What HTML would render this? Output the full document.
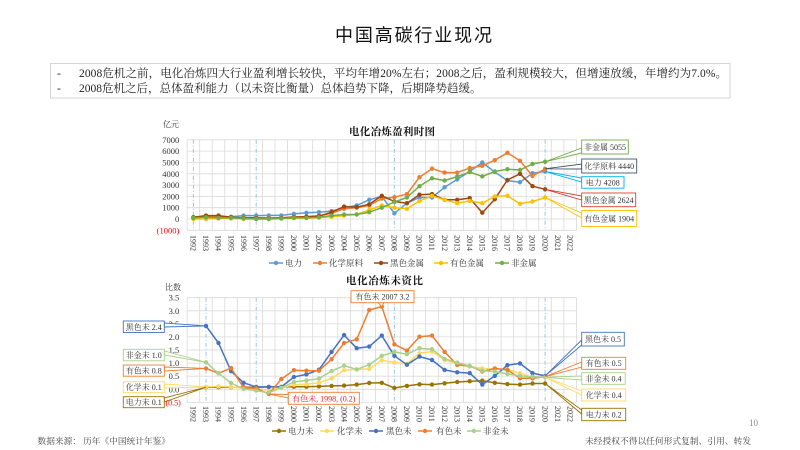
<!DOCTYPE html>
<html><head><meta charset="utf-8">
<style>
html,body{margin:0;padding:0;background:#fff;}
svg{display:block;}
.s{font-family:"Liberation Serif","Noto Serif CJK SC",serif;}
</style></head>
<body>
<svg width="800" height="450" viewBox="0 0 800 450" xmlns="http://www.w3.org/2000/svg" class="s">
<defs>
<marker id="mA" markerUnits="userSpaceOnUse" markerWidth="6" markerHeight="6" refX="3" refY="3"><circle cx="3" cy="3" r="2.2" fill="#5B9BD5"/></marker>
<marker id="mB" markerUnits="userSpaceOnUse" markerWidth="6" markerHeight="6" refX="3" refY="3"><circle cx="3" cy="3" r="2.2" fill="#ED7D31"/></marker>
<marker id="mC" markerUnits="userSpaceOnUse" markerWidth="6" markerHeight="6" refX="3" refY="3"><circle cx="3" cy="3" r="2.2" fill="#9E480E"/></marker>
<marker id="mD" markerUnits="userSpaceOnUse" markerWidth="6" markerHeight="6" refX="3" refY="3"><circle cx="3" cy="3" r="2.2" fill="#FFC000"/></marker>
<marker id="mE" markerUnits="userSpaceOnUse" markerWidth="6" markerHeight="6" refX="3" refY="3"><circle cx="3" cy="3" r="2.2" fill="#70AD47"/></marker>
<marker id="nA" markerUnits="userSpaceOnUse" markerWidth="6" markerHeight="6" refX="3" refY="3"><circle cx="3" cy="3" r="2.2" fill="#4472C4"/></marker>
<marker id="nB" markerUnits="userSpaceOnUse" markerWidth="6" markerHeight="6" refX="3" refY="3"><circle cx="3" cy="3" r="2.2" fill="#ED7D31"/></marker>
<marker id="nC" markerUnits="userSpaceOnUse" markerWidth="6" markerHeight="6" refX="3" refY="3"><circle cx="3" cy="3" r="2.2" fill="#A9D18E"/></marker>
<marker id="nD" markerUnits="userSpaceOnUse" markerWidth="6" markerHeight="6" refX="3" refY="3"><circle cx="3" cy="3" r="2.2" fill="#FFD966"/></marker>
<marker id="nE" markerUnits="userSpaceOnUse" markerWidth="6" markerHeight="6" refX="3" refY="3"><circle cx="3" cy="3" r="2.2" fill="#997300"/></marker>
</defs>
<rect width="800" height="450" fill="#fff"/>

<!-- Title -->
<text x="335" y="41.5" font-family="'Liberation Sans','Noto Sans CJK SC',sans-serif" font-size="18" fill="#111" textLength="157" lengthAdjust="spacing">中国高碳行业现况</text>

<!-- Bullet box -->
<rect x="50.5" y="63.5" width="679.5" height="34.5" fill="#fff" stroke="#D4D4D4" stroke-width="1"/>
<text x="57" y="77" font-size="11.5" fill="#222">-</text>
<text x="57" y="92" font-size="11.5" fill="#222">-</text>
<text x="79" y="77" font-size="11.5" fill="#222" textLength="648" lengthAdjust="spacing">2008危机之前，电化冶炼四大行业盈利增长较快，平均年增20%左右；2008之后，盈利规模较大，但增速放缓，年增约为7.0%。</text>
<text x="79" y="92" font-size="11.5" fill="#222">2008危机之后，总体盈利能力（以未资比衡量）总体趋势下降，后期降势趋缓。</text>

<!-- ===== TOP CHART ===== -->
<text x="349" y="135" font-size="10.5" font-weight="bold" fill="#111" textLength="86" lengthAdjust="spacing">电化冶炼盈利时图</text>
<text x="163" y="127" font-size="8" fill="#333">亿元</text>

<g stroke="#D9D9D9" stroke-width="0.8" fill="none">
<path d="M187.1 139.8H576.5M187.1 151.1H576.5M187.1 162.5H576.5M187.1 173.8H576.5M187.1 185.1H576.5M187.1 196.4H576.5M187.1 207.7H576.5M187.1 219H576.5M187.1 230.3H576.5"/>
<path d="M187.1 139.8V230.3M199.7 139.8V230.3M212.2 139.8V230.3M224.8 139.8V230.3M237.3 139.8V230.3M249.9 139.8V230.3M262.5 139.8V230.3M275.0 139.8V230.3M287.6 139.8V230.3M300.1 139.8V230.3M312.7 139.8V230.3M325.3 139.8V230.3M337.8 139.8V230.3M350.4 139.8V230.3M362.9 139.8V230.3M375.5 139.8V230.3M388.1 139.8V230.3M400.6 139.8V230.3M413.2 139.8V230.3M425.7 139.8V230.3M438.3 139.8V230.3M450.9 139.8V230.3M463.4 139.8V230.3M476.0 139.8V230.3M488.5 139.8V230.3M501.1 139.8V230.3M513.7 139.8V230.3M526.2 139.8V230.3M538.8 139.8V230.3M551.3 139.8V230.3M563.9 139.8V230.3M576.5 139.8V230.3"/>
</g>
<g stroke="#9DC3E6" stroke-width="1" stroke-dasharray="4 2 1 2" fill="none">
<path d="M193.4 139.8V230.3M256.2 139.8V230.3M394.4 139.8V230.3M545.1 139.8V230.3"/>
</g>

<g font-size="8.5" fill="#333" text-anchor="end">
<text x="179.3" y="142.8">7000</text>
<text x="179.3" y="154.1">6000</text>
<text x="179.3" y="165.5">5000</text>
<text x="179.3" y="176.8">4000</text>
<text x="179.3" y="188.1">3000</text>
<text x="179.3" y="199.4">2000</text>
<text x="179.3" y="210.7">1000</text>
<text x="179.3" y="222">0</text>
<text x="179.3" y="233.3" fill="#FF0000">(1000)</text>
</g>

<g font-size="8" fill="#333">
<text transform="translate(190.6,235) rotate(90)">1992</text>
<text transform="translate(203.2,235) rotate(90)">1993</text>
<text transform="translate(215.7,235) rotate(90)">1994</text>
<text transform="translate(228.3,235) rotate(90)">1995</text>
<text transform="translate(240.8,235) rotate(90)">1996</text>
<text transform="translate(253.4,235) rotate(90)">1997</text>
<text transform="translate(266.0,235) rotate(90)">1998</text>
<text transform="translate(278.5,235) rotate(90)">1999</text>
<text transform="translate(291.1,235) rotate(90)">2000</text>
<text transform="translate(303.6,235) rotate(90)">2001</text>
<text transform="translate(316.2,235) rotate(90)">2002</text>
<text transform="translate(328.8,235) rotate(90)">2003</text>
<text transform="translate(341.3,235) rotate(90)">2004</text>
<text transform="translate(353.9,235) rotate(90)">2005</text>
<text transform="translate(366.4,235) rotate(90)">2006</text>
<text transform="translate(379.0,235) rotate(90)">2007</text>
<text transform="translate(391.6,235) rotate(90)">2008</text>
<text transform="translate(404.1,235) rotate(90)">2009</text>
<text transform="translate(416.7,235) rotate(90)">2010</text>
<text transform="translate(429.2,235) rotate(90)">2011</text>
<text transform="translate(441.8,235) rotate(90)">2012</text>
<text transform="translate(454.4,235) rotate(90)">2013</text>
<text transform="translate(466.9,235) rotate(90)">2014</text>
<text transform="translate(479.5,235) rotate(90)">2015</text>
<text transform="translate(492.0,235) rotate(90)">2016</text>
<text transform="translate(504.6,235) rotate(90)">2017</text>
<text transform="translate(517.2,235) rotate(90)">2018</text>
<text transform="translate(529.7,235) rotate(90)">2019</text>
<text transform="translate(542.3,235) rotate(90)">2020</text>
<text transform="translate(554.8,235) rotate(90)">2021</text>
<text transform="translate(567.4,235) rotate(90)">2022</text>
</g>

<g fill="none" stroke-width="1.5" stroke-linejoin="round">
<polyline stroke="#5B9BD5" marker-start="url(#mA)" marker-mid="url(#mA)" marker-end="url(#mA)" points="193.4,217.3 206.0,217.3 218.5,217.3 231.1,216.7 243.6,215.6 256.2,215.6 268.8,215.4 281.3,215.4 293.9,213.9 306.4,212.8 319.0,212.2 331.6,211.1 344.1,207.7 356.7,205.4 369.2,199.8 381.8,196.4 394.4,213.3 406.9,203.2 419.5,197.5 432.0,197.5 444.6,187.3 457.2,179.4 469.7,171.5 482.3,162.5 494.8,172.1 507.4,180.5 520.0,182.2 532.5,173.2 545.1,171.4"/>
<polyline stroke="#ED7D31" marker-start="url(#mB)" marker-mid="url(#mB)" marker-end="url(#mB)" points="193.4,217.9 206.0,216.7 218.5,216.7 231.1,217.9 243.6,217.9 256.2,217.9 268.8,217.9 281.3,217.9 293.9,216.7 306.4,216.7 319.0,215.6 331.6,213.3 344.1,208.8 356.7,207.7 369.2,205.4 381.8,198.6 394.4,197.2 406.9,194.1 419.5,177.2 432.0,168.7 444.6,172.6 457.2,172.6 469.7,168.1 482.3,165.8 494.8,160.2 507.4,152.8 520.0,160.8 532.5,176.0 545.1,168.8"/>
<polyline stroke="#9E480E" marker-start="url(#mC)" marker-mid="url(#mC)" marker-end="url(#mC)" points="193.4,217.3 206.0,215.6 218.5,215.6 231.1,217.3 243.6,217.9 256.2,217.9 268.8,218.4 281.3,217.9 293.9,217.3 306.4,216.7 319.0,216.2 331.6,212.2 344.1,206.6 356.7,207.1 369.2,204.3 381.8,195.8 394.4,201.5 406.9,203.2 419.5,194.7 432.0,194.1 444.6,199.8 457.2,199.8 469.7,198.1 482.3,212.7 494.8,199.2 507.4,180.0 520.0,173.8 532.5,186.2 545.1,189.3"/>
<polyline stroke="#FFC000" marker-start="url(#mD)" marker-mid="url(#mD)" marker-end="url(#mD)" points="193.4,219 206.0,219 218.5,218.4 231.1,218.4 243.6,219 256.2,219 268.8,219 281.3,218.7 293.9,218.1 306.4,218.1 319.0,217.6 331.6,216.7 344.1,215.6 356.7,214.5 369.2,210.0 381.8,205.4 394.4,207.7 406.9,208.8 419.5,200.9 432.0,195.8 444.6,199.8 457.2,203.2 469.7,200.9 482.3,203.2 494.8,196.4 507.4,195.8 520.0,203.8 532.5,201.5 545.1,197.5"/>
<polyline stroke="#70AD47" marker-start="url(#mE)" marker-mid="url(#mE)" marker-end="url(#mE)" points="193.4,217.9 206.0,217.3 218.5,217.9 231.1,217.9 243.6,218.4 256.2,219 268.8,219 281.3,218.4 293.9,217.9 306.4,217.9 319.0,217.3 331.6,215.6 344.1,214.5 356.7,214.5 369.2,212.2 381.8,207.7 394.4,202.0 406.9,197.5 419.5,186.2 432.0,178.3 444.6,180.5 457.2,176.6 469.7,172.1 482.3,176.4 494.8,171.5 507.4,169.2 520.0,170.0 532.5,163.9 545.1,161.8"/>
</g>

<!-- top callouts -->
<g stroke-width="0.9" font-size="8" fill="#fff">
<polygon points="545.1,161.8 581.7,148 581.7,153" stroke="#70AD47"/>
<rect x="581.7" y="140" width="46.6" height="14" stroke="#70AD47"/>
<polygon points="545.1,168.8 581.7,164 581.7,169" stroke="#44546A"/>
<rect x="581.7" y="159" width="55" height="14" stroke="#44546A"/>
<polygon points="545.1,171.4 581.7,178 581.7,182" stroke="#00B0F0"/>
<rect x="581.7" y="176.7" width="42.3" height="11.5" stroke="#00B0F0"/>
<polygon points="545.1,189.3 581.7,196 581.7,200" stroke="#E03C31"/>
<rect x="581.7" y="193" width="54" height="13.7" stroke="#E03C31"/>
<polygon points="545.1,197.5 581.7,213 581.7,218" stroke="#FFC000"/>
<rect x="581.7" y="210.5" width="55" height="16" stroke="#FFC000"/>
</g>
<g font-size="8" fill="#333" text-anchor="middle">
<text x="605" y="150">非金属 5055</text>
<text x="609.2" y="169">化学原料 4440</text>
<text x="602.8" y="185.4">电力 4208</text>
<text x="608.7" y="202.8">黑色金属 2624</text>
<text x="609.2" y="221.4">有色金属 1904</text>
</g>

<!-- top legend -->
<g stroke-width="1.5" font-size="8.5" fill="#333">
<line x1="269" y1="263" x2="283" y2="263" stroke="#5B9BD5"/><circle cx="276" cy="263" r="2.2" fill="#5B9BD5" stroke="none"/>
<text x="285" y="266" stroke="none">电力</text>
<line x1="313" y1="263" x2="327" y2="263" stroke="#ED7D31"/><circle cx="320" cy="263" r="2.2" fill="#ED7D31" stroke="none"/>
<text x="329" y="266" stroke="none">化学原料</text>
<line x1="374" y1="263" x2="388" y2="263" stroke="#9E480E"/><circle cx="381" cy="263" r="2.2" fill="#9E480E" stroke="none"/>
<text x="390" y="266" stroke="none">黑色金属</text>
<line x1="434" y1="263" x2="448" y2="263" stroke="#FFC000"/><circle cx="441" cy="263" r="2.2" fill="#FFC000" stroke="none"/>
<text x="450" y="266" stroke="none">有色金属</text>
<line x1="495" y1="263" x2="509" y2="263" stroke="#70AD47"/><circle cx="502" cy="263" r="2.2" fill="#70AD47" stroke="none"/>
<text x="511" y="266" stroke="none">非金属</text>
</g>

<!-- ===== BOTTOM CHART ===== -->
<text x="346" y="284" font-size="10.5" font-weight="bold" fill="#111" textLength="77" lengthAdjust="spacing">电化冶炼未资比</text>
<text x="165" y="290" font-size="8" fill="#333">比数</text>

<g stroke="#D9D9D9" stroke-width="0.8" fill="none">
<path d="M187.1 297.7H576.5M187.1 310.8H576.5M187.1 323.9H576.5M187.1 336.9H576.5M187.1 350.0H576.5M187.1 363.1H576.5M187.1 376.2H576.5M187.1 389.3H576.5M187.1 402.4H576.5"/>
<path d="M187.1 297.7V402.4M199.7 297.7V402.4M212.2 297.7V402.4M224.8 297.7V402.4M237.3 297.7V402.4M249.9 297.7V402.4M262.5 297.7V402.4M275.0 297.7V402.4M287.6 297.7V402.4M300.1 297.7V402.4M312.7 297.7V402.4M325.3 297.7V402.4M337.8 297.7V402.4M350.4 297.7V402.4M362.9 297.7V402.4M375.5 297.7V402.4M388.1 297.7V402.4M400.6 297.7V402.4M413.2 297.7V402.4M425.7 297.7V402.4M438.3 297.7V402.4M450.9 297.7V402.4M463.4 297.7V402.4M476.0 297.7V402.4M488.5 297.7V402.4M501.1 297.7V402.4M513.7 297.7V402.4M526.2 297.7V402.4M538.8 297.7V402.4M551.3 297.7V402.4M563.9 297.7V402.4M576.5 297.7V402.4"/>
</g>
<g stroke="#9DC3E6" stroke-width="1" stroke-dasharray="4 2 1 2" fill="none">
<path d="M206.0 297.7V402.4M256.2 297.7V402.4M394.4 297.7V402.4M545.1 297.7V402.4"/>
</g>

<g font-size="8.5" fill="#333" text-anchor="end">
<text x="179.3" y="300.7">3.5</text>
<text x="179.3" y="313.8">3.0</text>
<text x="179.3" y="326.9">2.5</text>
<text x="179.3" y="339.9">2.0</text>
<text x="179.3" y="353">1.5</text>
<text x="179.3" y="366.1">1.0</text>
<text x="179.3" y="379.2">0.5</text>
<text x="179.3" y="392.3">0.0</text>
</g>

<g font-size="8" fill="#333">
<text transform="translate(190.6,406) rotate(90)">1992</text>
<text transform="translate(203.2,406) rotate(90)">1993</text>
<text transform="translate(215.7,406) rotate(90)">1994</text>
<text transform="translate(228.3,406) rotate(90)">1995</text>
<text transform="translate(240.8,406) rotate(90)">1996</text>
<text transform="translate(253.4,406) rotate(90)">1997</text>
<text transform="translate(266.0,406) rotate(90)">1998</text>
<text transform="translate(278.5,406) rotate(90)">1999</text>
<text transform="translate(291.1,406) rotate(90)">2000</text>
<text transform="translate(303.6,406) rotate(90)">2001</text>
<text transform="translate(316.2,406) rotate(90)">2002</text>
<text transform="translate(328.8,406) rotate(90)">2003</text>
<text transform="translate(341.3,406) rotate(90)">2004</text>
<text transform="translate(353.9,406) rotate(90)">2005</text>
<text transform="translate(366.4,406) rotate(90)">2006</text>
<text transform="translate(379.0,406) rotate(90)">2007</text>
<text transform="translate(391.6,406) rotate(90)">2008</text>
<text transform="translate(404.1,406) rotate(90)">2009</text>
<text transform="translate(416.7,406) rotate(90)">2010</text>
<text transform="translate(429.2,406) rotate(90)">2011</text>
<text transform="translate(441.8,406) rotate(90)">2012</text>
<text transform="translate(454.4,406) rotate(90)">2013</text>
<text transform="translate(466.9,406) rotate(90)">2014</text>
<text transform="translate(479.5,406) rotate(90)">2015</text>
<text transform="translate(492.0,406) rotate(90)">2016</text>
<text transform="translate(504.6,406) rotate(90)">2017</text>
<text transform="translate(517.2,406) rotate(90)">2018</text>
<text transform="translate(529.7,406) rotate(90)">2019</text>
<text transform="translate(542.3,406) rotate(90)">2020</text>
<text transform="translate(554.8,406) rotate(90)">2021</text>
<text transform="translate(567.4,406) rotate(90)">2022</text>
</g>

<g fill="none" stroke-width="1.5" stroke-linejoin="round">
<polyline stroke="#997300" marker-start="url(#nE)" marker-mid="url(#nE)" marker-end="url(#nE)" points="206.0,387.2 218.5,387.2 231.1,387.2 243.6,387.2 256.2,387.2 268.8,386.9 281.3,386.9 293.9,386.7 306.4,386.7 319.0,386.4 331.6,385.9 344.1,385.6 356.7,384.6 369.2,383.0 381.8,382.8 394.4,388.0 406.9,385.9 419.5,384.3 432.0,384.6 444.6,383.3 457.2,382.0 469.7,381.2 482.3,380.7 494.8,382.8 507.4,384.1 520.0,384.6 532.5,383.5 545.1,383.5"/>
<polyline stroke="#FFD966" marker-start="url(#nD)" marker-mid="url(#nD)" marker-end="url(#nD)" points="206.0,386.9 218.5,386.4 231.1,386.9 243.6,388.3 256.2,388.5 268.8,390.1 281.3,387.7 293.9,384.8 306.4,384.3 319.0,382.8 331.6,378.3 344.1,370.2 356.7,369.4 369.2,368.9 381.8,360.2 394.4,362.6 406.9,363.9 419.5,353.2 432.0,351.6 444.6,360.0 457.2,363.9 469.7,366.5 482.3,368.4 494.8,369.4 507.4,369.4 520.0,373.3 532.5,377.3 545.1,377.3"/>
<polyline stroke="#4472C4" marker-start="url(#nA)" marker-mid="url(#nA)" marker-end="url(#nA)" points="206.0,325.9 218.5,343.0 231.1,371.2 243.6,382.8 256.2,386.9 268.8,386.9 281.3,386.9 293.9,377.0 306.4,374.4 319.0,369.7 331.6,351.9 344.1,335.1 356.7,348.2 369.2,346.6 381.8,335.6 394.4,355.8 406.9,364.7 419.5,356.6 432.0,360.0 444.6,369.9 457.2,372.3 469.7,373.1 482.3,384.6 494.8,375.9 507.4,365.2 520.0,363.4 532.5,373.1 545.1,375.9"/>
<polyline stroke="#ED7D31" marker-start="url(#nB)" marker-mid="url(#nB)" marker-end="url(#nB)" points="206.0,368.4 218.5,373.3 231.1,368.1 243.6,387.7 256.2,388.3 268.8,394.0 281.3,379.1 293.9,370.2 306.4,370.7 319.0,370.7 331.6,359.2 344.1,343.0 356.7,339.3 369.2,310.0 381.8,306.6 394.4,344.3 406.9,350.6 419.5,336.7 432.0,335.6 444.6,351.9 457.2,364.9 469.7,366.0 482.3,371.5 494.8,368.4 507.4,369.9 520.0,378.3 532.5,378.3 545.1,376.7"/>
<polyline stroke="#A9D18E" marker-start="url(#nC)" marker-mid="url(#nC)" marker-end="url(#nC)" points="206.0,362.3 218.5,373.3 231.1,383.0 243.6,389.0 256.2,390.6 268.8,392.7 281.3,387.7 293.9,382.0 306.4,380.4 319.0,378.6 331.6,371.0 344.1,365.7 356.7,369.4 369.2,364.7 381.8,355.8 394.4,351.9 406.9,354.2 419.5,348.2 432.0,349.2 444.6,358.9 457.2,362.6 469.7,366.0 482.3,370.7 494.8,371.5 507.4,373.9 520.0,375.9 532.5,376.7 545.1,377.3"/>
</g>

<!-- bottom callouts -->
<g stroke-width="0.9" fill="#fff">
<polygon points="206,325.9 164.3,323 164.3,327" stroke="#4472C4"/>
<rect x="123.3" y="321" width="41" height="11.5" stroke="#4472C4"/>
<polygon points="206,362.3 164.3,351 164.3,355" stroke="#A9D18E"/>
<rect x="123.3" y="349.3" width="41" height="11.5" stroke="#A9D18E"/>
<polygon points="206,368.4 164.3,367 164.3,371" stroke="#ED7D31"/>
<rect x="123.3" y="365" width="41" height="11.2" stroke="#ED7D31"/>
<polygon points="206,386.9 164.3,384 164.3,388" stroke="#FFD966"/>
<rect x="123.3" y="381.7" width="41" height="11" stroke="#FFD966"/>
<polygon points="206,387.2 164.3,398 164.3,402" stroke="#997300"/>
<rect x="123.3" y="396.7" width="41" height="11" stroke="#997300"/>
<polygon points="268.8,394 288.3,394.5 288.3,398" stroke="#ED7D31"/>
<rect x="288.3" y="392.3" width="71" height="12" stroke="#ED7D31"/>
<polygon points="381.8,306.6 378,302.7 384,302.7" stroke="#ED7D31"/>
<rect x="351" y="290.7" width="63" height="12" stroke="#ED7D31"/>
<polygon points="545.1,375.9 581.7,340 581.7,345" stroke="#4472C4"/>
<rect x="581.7" y="332.3" width="42.6" height="13.7" stroke="#4472C4"/>
<polygon points="545.1,376.7 581.7,362 581.7,367" stroke="#ED7D31"/>
<rect x="581.7" y="357.3" width="44" height="12" stroke="#ED7D31"/>
<polygon points="545.1,377.3 581.7,376 581.7,380" stroke="#A9D18E"/>
<rect x="581.7" y="372.7" width="43.5" height="11.6" stroke="#A9D18E"/>
<polygon points="545.1,377.3 581.7,391 581.7,395" stroke="#FFD966"/>
<rect x="581.7" y="389" width="44" height="12" stroke="#FFD966"/>
<polygon points="545.1,383.5 581.7,410 581.7,414" stroke="#997300"/>
<rect x="581.7" y="408.3" width="44" height="12.4" stroke="#997300"/>
</g>
<text x="165.5" y="405.4" font-size="8" fill="#FF0000">(0.5)</text>
<g font-size="8" fill="#333" text-anchor="middle">
<text x="143.8" y="329.8">黑色未 2.4</text>
<text x="143.8" y="358">非金未 1.0</text>
<text x="143.8" y="373.6">有色未 0.8</text>
<text x="143.8" y="390">化学未 0.1</text>
<text x="143.8" y="405">电力未 0.1</text>
<text x="323.8" y="401.3" fill="#E02020">有色未, 1998, (0.2)</text>
<text x="382.5" y="299.7">有色未 2007 3.2</text>
<text x="603" y="342">黑色未 0.5</text>
<text x="603.7" y="366.2">有色未 0.5</text>
<text x="603.5" y="381.4">非金未 0.4</text>
<text x="603.7" y="398">化学未 0.4</text>
<text x="603.7" y="417.4">电力未 0.2</text>
</g>

<!-- bottom legend -->
<g stroke-width="1.5" font-size="8.5" fill="#333">
<line x1="272" y1="431" x2="286" y2="431" stroke="#997300"/><circle cx="279" cy="431" r="2.2" fill="#997300" stroke="none"/>
<text x="288" y="434" stroke="none">电力未</text>
<line x1="320" y1="431" x2="334" y2="431" stroke="#FFD966"/><circle cx="327" cy="431" r="2.2" fill="#FFD966" stroke="none"/>
<text x="337" y="434" stroke="none">化学未</text>
<line x1="369" y1="431" x2="383" y2="431" stroke="#4472C4"/><circle cx="376" cy="431" r="2.2" fill="#4472C4" stroke="none"/>
<text x="386" y="434" stroke="none">黑色未</text>
<line x1="418" y1="431" x2="432" y2="431" stroke="#ED7D31"/><circle cx="425" cy="431" r="2.2" fill="#ED7D31" stroke="none"/>
<text x="436" y="434" stroke="none">有色未</text>
<line x1="467" y1="431" x2="481" y2="431" stroke="#A9D18E"/><circle cx="474" cy="431" r="2.2" fill="#A9D18E" stroke="none"/>
<text x="483" y="434" stroke="none">非金未</text>
</g>

<!-- footer -->
<text x="749" y="426" font-size="9" fill="#888">10</text>
<text x="37.5" y="444" font-size="8.7" fill="#444">数据来源： 历年《中国统计年鉴》</text>
<text x="585" y="444" font-size="8.7" fill="#444" textLength="166" lengthAdjust="spacing">未经授权不得以任何形式复制、引用、转发</text>
</svg>
</body></html>
